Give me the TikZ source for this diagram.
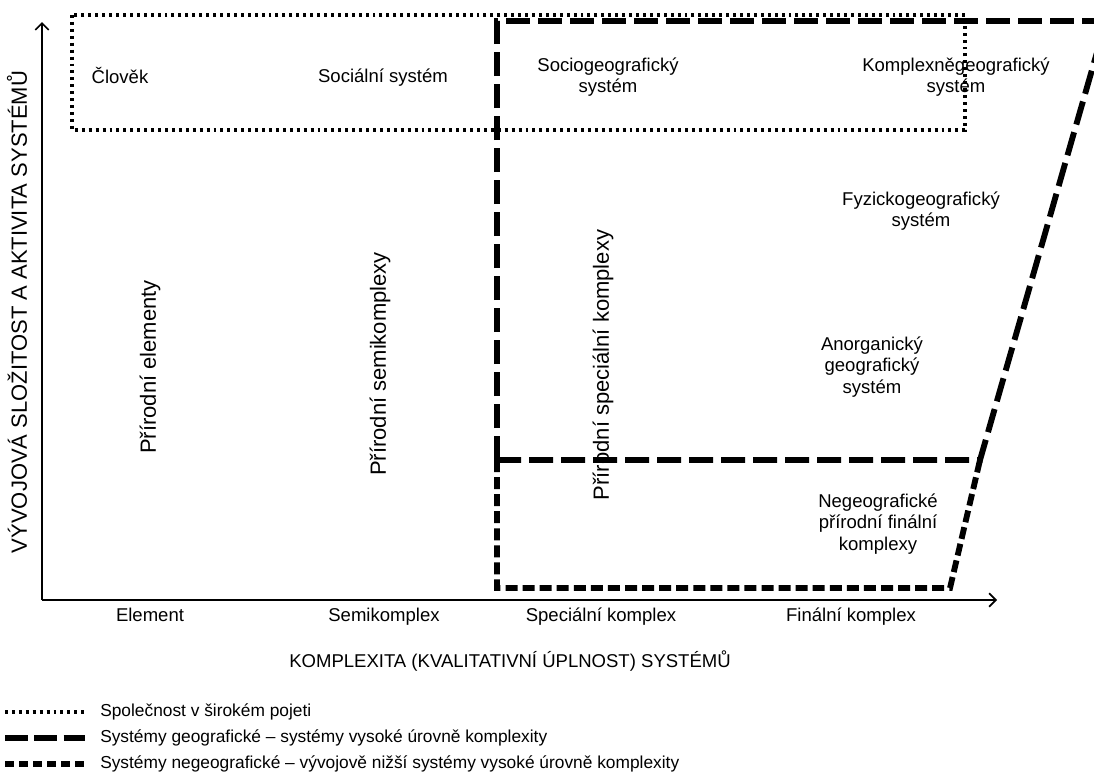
\documentclass[tikz,border=0pt]{standalone}
\usepackage{fontspec}
\setmainfont{Liberation Sans}
\usetikzlibrary{arrows.meta}
\begin{document}
\begin{tikzpicture}[x=0.75pt,y=-0.75pt,
  lbl/.style={font=\fontsize{13.9pt}{16pt}\selectfont, align=center, inner sep=0pt},
  blbl/.style={font=\fontsize{13.9pt}{16pt}\selectfont, anchor=base, inner sep=0pt},
  vlbl/.style={font=\fontsize{16.5pt}{18pt}\selectfont, rotate=90, inner sep=0pt},
  leg/.style={font=\fontsize{13pt}{15pt}\selectfont, anchor=west, inner sep=0pt},
  axis/.style={line width=1.3pt, -{Straight Barb[length=5pt,width=10pt]}},
  dotline/.style={line width=3pt, dash pattern=on 2.2pt off 3pt},
  geoline/.style={line width=4.4pt, dash pattern=on 18pt off 6pt},
  negline/.style={line width=4.4pt, dash pattern=on 9pt off 3.8pt}]
\useasboundingbox (0,0) rectangle (1094,775);
\begin{scope}
\clip (0,0) rectangle (1094,775);
% axes
\coordinate (O) at (42,600);
\coordinate (Ytop) at (42,22);
\coordinate (Xend) at (997,600);
\draw[axis] (O) -- (Ytop);
\draw[axis] (O) -- (Xend);
% society (dotted)
\draw[dotline] (72,15) rectangle (965,130);
% geographic systems (long dashes)
\coordinate (G1) at (497,460);
\coordinate (G2) at (497,21);
\coordinate (G3) at (1110,21);
\coordinate (G4) at (980,460);
\coordinate (G5) at (1106,21);
\draw[geoline] (G1) -- (G2) -- (G3);
\draw[geoline] (G1) -- (G4) -- (G5);
% non-geographic systems (short dashes)
\coordinate (N1) at (497,588);
\coordinate (N2) at (950,588);
\draw[negline] (G1) -- (N1) -- (N2) -- (G4);
\end{scope}
% labels inside
\node[blbl] (clovek) at (120,83) {Člověk};
\node[blbl] (soc) at (383,82) {Sociální systém};
\node[lbl] (sociogeo) at (608,77) {Sociogeografický\\systém};
\node[lbl] (kompl) at (956,77) {Komplexněgeografický\\systém};
\node[lbl] (fyz) at (921,211) {Fyzickogeografický\\systém};
\node[lbl] (anorg) at (872,367) {Anorganický\\geografický\\systém};
\node[lbl] (negeo) at (878,524) {Negeografické\\přírodní finální\\komplexy};
\node[vlbl] (pe) at (150,367) {Přírodní elementy};
\node[vlbl] (ps) at (380,364) {Přírodní semikomplexy};
\node[vlbl] (psk) at (603,365) {Přírodní speciální komplexy};
\node[vlbl] (ylab) at (17,312) {VÝVOJOVÁ SLOŽITOST A AKTIVITA SYSTÉMŮ};
% axis ticks labels
\node[blbl] (t1) at (150,621) {Element};
\node[blbl] (t2) at (384,621) {Semikomplex};
\node[blbl] (t3) at (601,621) {Speciální komplex};
\node[blbl] (t4) at (851,621) {Finální komplex};
\node[blbl] (xlab) at (510,667) {KOMPLEXITA (KVALITATIVNÍ ÚPLNOST) SYSTÉMŮ};
% legend
\coordinate (L1a) at (5,712); \coordinate (L1b) at (85,712);
\coordinate (L2a) at (5,738); \coordinate (L2b) at (85,738);
\coordinate (L3a) at (5,764); \coordinate (L3b) at (85,764);
\draw[dotline] (L1a) -- (L1b);
\draw[geoline, dash pattern=on 17pt off 5pt] (L2a) -- (L2b);
\draw[negline, dash pattern=on 7pt off 3.5pt] (L3a) -- (L3b);
\node[leg] (leg1) at (100,712) {Společnost v širokém pojeti};
\node[leg] (leg2) at (100,738) {Systémy geografické – systémy vysoké úrovně komplexity};
\node[leg] (leg3) at (100,764) {Systémy negeografické – vývojově nižší systémy vysoké úrovně komplexity};
\end{tikzpicture}
\end{document}
